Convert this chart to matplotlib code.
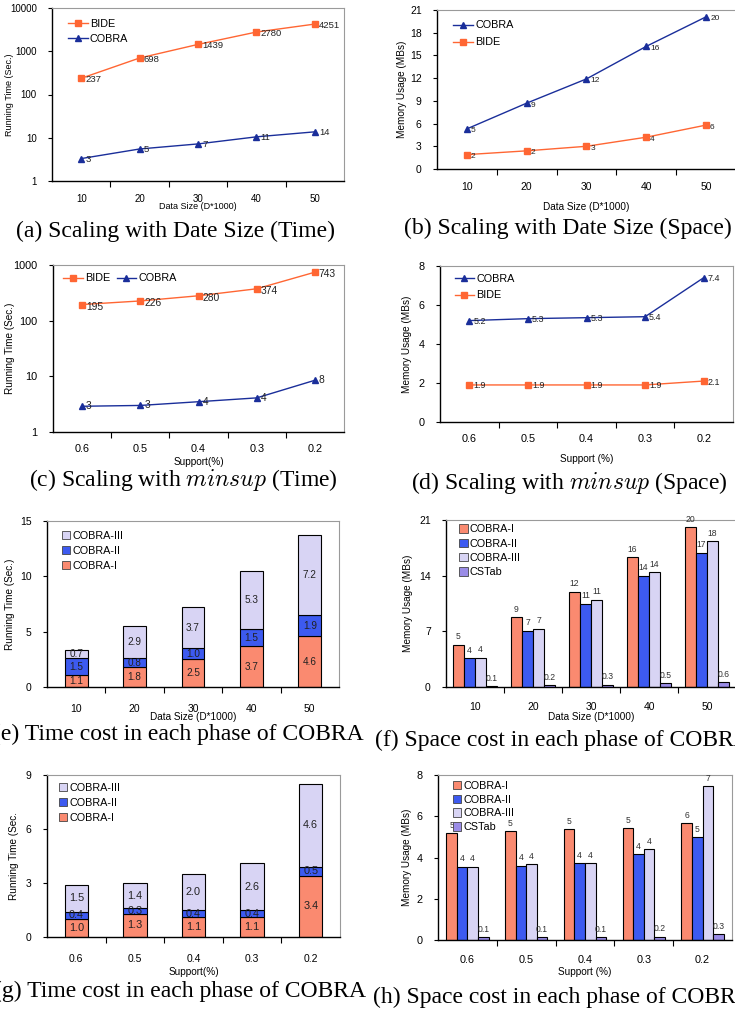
import matplotlib
matplotlib.use("Agg")
import matplotlib.pyplot as plt
from matplotlib.patches import Patch
import numpy as np

plt.rcParams['font.family'] = ['Liberation Sans', 'DejaVu Sans']
plt.rcParams['mathtext.fontset'] = 'cm'

# ---------------- data ----------------
data_sizes = ['10', '20', '30', '40', '50']
supports = ['0.6', '0.5', '0.4', '0.3', '0.2']

# (a) running time vs data size (log)
a_bide = [237, 698, 1439, 2780, 4251]
a_bide_lbl = ['237', '698', '1439', '2780', '4251']
a_cobra = [3.3, 5.5, 7.2, 10.5, 13.7]
a_cobra_lbl = ['3', '5', '7', '11', '14']

# (b) memory vs data size
b_cobra = [5.3, 8.7, 11.9, 16.2, 20.1]
b_cobra_lbl = ['5', '9', '12', '16', '20']
b_bide = [1.9, 2.4, 3.0, 4.2, 5.8]
b_bide_lbl = ['2', '2', '3', '4', '6']

# (c) running time vs support (log)
c_bide = [195, 226, 280, 374, 743]
c_bide_lbl = ['195', '226', '280', '374', '743']
c_cobra = [2.9, 3.0, 3.5, 4.1, 8.5]
c_cobra_lbl = ['3', '3', '4', '4', '8']

# (d) memory vs support
d_cobra = [5.2, 5.3, 5.35, 5.4, 7.4]
d_cobra_lbl = ['5.2', '5.3', '5.3', '5.4', '7.4']
d_bide = [1.9, 1.9, 1.9, 1.9, 2.1]
d_bide_lbl = ['1.9', '1.9', '1.9', '1.9', '2.1']

# (e) time per phase vs data size (stacked)
e_p1 = [1.1, 1.8, 2.5, 3.7, 4.6]
e_p2 = [1.5, 0.8, 1.0, 1.5, 1.9]
e_p3 = [0.7, 2.9, 3.7, 5.3, 7.2]

# (f) space per phase vs data size (grouped)
f_p1 = [5.3, 8.8, 12.0, 16.3, 20.1]
f_p1_lbl = ['5', '9', '12', '16', '20']
f_p2 = [3.6, 7.1, 10.5, 14.0, 16.9]
f_p2_lbl = ['4', '7', '11', '14', '17']
f_p3 = [3.7, 7.3, 11.0, 14.4, 18.3]
f_p3_lbl = ['4', '7', '11', '14', '18']
f_cst = [0.1, 0.2, 0.3, 0.5, 0.6]
f_cst_lbl = ['0.1', '0.2', '0.3', '0.5', '0.6']

# (g) time per phase vs support (stacked)
g_p1 = [1.0, 1.3, 1.1, 1.1, 3.4]
g_p2 = [0.4, 0.3, 0.4, 0.4, 0.5]
g_p3 = [1.5, 1.4, 2.0, 2.6, 4.6]

# (h) space per phase vs support (grouped)
h_p1 = [5.17, 5.28, 5.36, 5.41, 5.65]
h_p1_lbl = ['5', '5', '5', '5', '6']
h_p2 = [3.55, 3.6, 3.72, 4.15, 4.98]
h_p2_lbl = ['4', '4', '4', '4', '5']
h_p3 = [3.55, 3.67, 3.72, 4.41, 7.46]
h_p3_lbl = ['4', '4', '4', '4', '7']
h_cst = [0.13, 0.13, 0.13, 0.16, 0.29]
h_cst_lbl = ['0.1', '0.1', '0.1', '0.2', '0.3']

captions = [
    '(a) Scaling with Date Size (Time)',
    '(b) Scaling with Date Size (Space)',
    '(c) Scaling with $minsup$ (Time)',
    '(d) Scaling with $minsup$ (Space)',
    '(e) Time cost in each phase of COBRA',
    '(f) Space cost in each phase of COBRA',
    '(g) Time cost in each phase of COBRA',
    '(h) Space cost in each phase of COBRA',
]

# ---------------- style ----------------
C_BIDE = '#FF6633'
C_COBRA = '#1A2E9A'
C_P1 = '#FA8A70'
C_P2 = '#3D5AF0'
C_P3 = '#D8D4F4'
C_CST = '#9A8CE6'
GRAY = '#9a9a9a'

W, H = 735, 1016
fig = plt.figure(figsize=(W / 100, H / 100), dpi=100)


def add_ax(l, t, r, b):
    return fig.add_axes([l / W, 1 - b / H, (r - l) / W, (b - t) / H])


def style_ax(ax, cats, xlabel, ylabel, pos, tick_fs, lab_fs, xl_off, yl_off):
    l, t, r, b = pos
    for s in ['left', 'bottom']:
        ax.spines[s].set_color('black')
        ax.spines[s].set_linewidth(1.0)
    for s in ['top', 'right']:
        ax.spines[s].set_color(GRAY)
        ax.spines[s].set_linewidth(0.8)
    n = len(cats)
    ax.set_xlim(-0.5, n - 0.5)
    ax.set_xticks(range(n))
    ax.set_xticklabels(cats, fontsize=tick_fs)
    ax.set_xticks(np.arange(0.5, n - 0.5, 1.0), minor=True)
    ax.tick_params(axis='x', which='major', length=0, pad=9)
    ax.tick_params(axis='x', which='minor', length=4, width=0.8, direction='out')
    ax.tick_params(axis='y', which='major', length=3, width=0.8, direction='out',
                   labelsize=tick_fs, pad=8)
    ax.tick_params(axis='y', which='minor', length=0)
    ax.set_xlabel(xlabel, fontsize=lab_fs)
    ax.set_ylabel(ylabel, fontsize=lab_fs)
    ax.xaxis.set_label_coords(0.5, -xl_off / (b - t))
    ax.yaxis.set_label_coords(-yl_off / (r - l), 0.5)


def line_labels(ax, vals, lbls, fs, dx=4, dy=-1):
    for i, (v, s) in enumerate(zip(vals, lbls)):
        ax.annotate(s, (i, v), xytext=(dx * 0.72, dy * 0.72), textcoords='offset points',
                    fontsize=fs, va='center', ha='left', color='#222222')


def plot_line(ax, vals, color, marker, ms, label):
    ax.plot(range(len(vals)), vals, color=color, lw=1.0, marker=marker,
            markersize=ms, markerfacecolor=color, markeredgecolor=color, label=label)


LEG = dict(frameon=False, fontsize=7.8, handlelength=1.8, handletextpad=0.2,
           borderpad=0, borderaxespad=0)

# ---------- (a) ----------
pos = (52, 8, 344, 181)
ax = add_ax(*pos)
plot_line(ax, a_bide, C_BIDE, 's', 5, 'BIDE')
plot_line(ax, a_cobra, C_COBRA, '^', 5, 'COBRA')
ax.set_yscale('log')
ax.set_ylim(1, 10000)
ax.set_yticks([1, 10, 100, 1000, 10000])
ax.set_yticklabels(['1', '10', '100', '1000', '10000'])
style_ax(ax, data_sizes, 'Data Size (D*1000)', 'Running Time (Sec.)', pos, 7, 6.5, 21, 38)
line_labels(ax, a_bide, a_bide_lbl, 6.8)
line_labels(ax, a_cobra, a_cobra_lbl, 6.8)
ax.legend(loc='upper left', bbox_to_anchor=(0.055, 0.935), labelspacing=0.45, **LEG)

# ---------- (b) ----------
pos = (437, 10, 736, 169)
ax = add_ax(*pos)
plot_line(ax, b_cobra, C_COBRA, '^', 5, 'COBRA')
plot_line(ax, b_bide, C_BIDE, 's', 5, 'BIDE')
ax.set_ylim(0, 21)
ax.set_yticks(range(0, 22, 3))
style_ax(ax, data_sizes, 'Data Size (D*1000)', 'Memory Usage (MBs)', pos, 7.5, 7.2, 33, 30)
line_labels(ax, b_cobra, b_cobra_lbl, 6, dy=-2)
line_labels(ax, b_bide, b_bide_lbl, 6, dy=-2)
ax.legend(loc='upper left', bbox_to_anchor=(0.055, 0.935), labelspacing=0.65, **LEG)

# ---------- (c) ----------
pos = (53, 265, 344, 432)
ax = add_ax(*pos)
plot_line(ax, c_bide, C_BIDE, 's', 5, 'BIDE')
plot_line(ax, c_cobra, C_COBRA, '^', 5, 'COBRA')
ax.set_yscale('log')
ax.set_ylim(1, 1000)
ax.set_yticks([1, 10, 100, 1000])
ax.set_yticklabels(['1', '10', '100', '1000'])
style_ax(ax, supports, 'Support(%)', 'Running Time (Sec.)', pos, 7.8, 7.2, 25, 38)
line_labels(ax, c_bide, c_bide_lbl, 7.4, dy=-2)
line_labels(ax, c_cobra, c_cobra_lbl, 7.4, dy=0)
ax.legend(loc='upper left', bbox_to_anchor=(0.035, 0.95), ncol=2, columnspacing=0.6, **LEG)

# ---------- (d) ----------
pos = (440, 266, 733, 422)
ax = add_ax(*pos)
plot_line(ax, d_cobra, C_COBRA, '^', 5, 'COBRA')
plot_line(ax, d_bide, C_BIDE, 's', 5, 'BIDE')
ax.set_ylim(0, 8)
ax.set_yticks([0, 2, 4, 6, 8])
style_ax(ax, supports, 'Support (%)', 'Memory Usage (MBs)', pos, 7.8, 7.2, 32, 28)
line_labels(ax, d_cobra, d_cobra_lbl, 6.4)
line_labels(ax, d_bide, d_bide_lbl, 6.4)
ax.legend(loc='upper left', bbox_to_anchor=(0.05, 0.95), labelspacing=0.6, **LEG)


# ---------- bar helpers ----------
def stacked(ax, p1, p2, p3, width, fs):
    x = np.arange(len(p1))
    bot2 = np.array(p1)
    bot3 = bot2 + np.array(p2)
    ax.bar(x, p1, width, color=C_P1, edgecolor='black', linewidth=0.8)
    ax.bar(x, p2, width, bottom=bot2, color=C_P2, edgecolor='black', linewidth=0.8)
    ax.bar(x, p3, width, bottom=bot3, color=C_P3, edgecolor='black', linewidth=0.8)
    for i in range(len(p1)):
        ax.text(x[i], p1[i] / 2, f'{p1[i]:.1f}', ha='center', va='center', fontsize=fs, color='#222222')
        ax.text(x[i], bot2[i] + p2[i] / 2, f'{p2[i]:.1f}', ha='center', va='center', fontsize=fs, color='#222222')
        ax.text(x[i], bot3[i] + p3[i] / 2, f'{p3[i]:.1f}', ha='center', va='center', fontsize=fs, color='#222222')
    return [Patch(facecolor=C_P3, edgecolor='#444444', lw=0.6),
            Patch(facecolor=C_P2, edgecolor='#444444', lw=0.6),
            Patch(facecolor=C_P1, edgecolor='#444444', lw=0.6)]


def grouped(ax, series, lbls, colors, width, fs):
    n = len(series)
    x = np.arange(len(series[0]))
    for k, (vals, lab, col) in enumerate(zip(series, lbls, colors)):
        off = (k - (n - 1) / 2) * width
        ax.bar(x + off, vals, width, color=col, edgecolor='black', linewidth=0.8)
        for i, v in enumerate(vals):
            ax.annotate(lab[i], (x[i] + off, v), xytext=(0, 2.5), textcoords='offset points',
                        ha='center', va='bottom', fontsize=fs, color='#333333')
    return [Patch(facecolor=c, edgecolor='#444444', lw=0.6) for c in colors]


bar_names = ['COBRA-I', 'COBRA-II', 'COBRA-III', 'CSTab']
bar_colors = [C_P1, C_P2, C_P3, C_CST]
BLEG = dict(frameon=False, fontsize=7.8, handlelength=0.8, handleheight=0.8,
            handletextpad=0.2, borderpad=0, borderaxespad=0)

# ---------- (e) ----------
pos = (47, 521, 339, 687)
ax = add_ax(*pos)
h = stacked(ax, e_p1, e_p2, e_p3, 0.39, 7.2)
ax.set_ylim(0, 15)
ax.set_yticks([0, 5, 10, 15])
style_ax(ax, data_sizes, 'Data Size (D*1000)', 'Running Time (Sec.)', pos, 7.5, 7.2, 25, 32)
ax.tick_params(axis='x', which='major', pad=12)
ax.legend(h, ['COBRA-III', 'COBRA-II', 'COBRA-I'], loc='upper left', bbox_to_anchor=(0.05, 0.94),
          labelspacing=0.45, **BLEG)

# ---------- (f) ----------
pos = (446, 520, 736, 687)
ax = add_ax(*pos)
h = grouped(ax, [f_p1, f_p2, f_p3, f_cst], [f_p1_lbl, f_p2_lbl, f_p3_lbl, f_cst_lbl],
            bar_colors, 0.19, 6.2)
ax.set_ylim(0, 21)
ax.set_yticks([0, 7, 14, 21])
style_ax(ax, data_sizes, 'Data Size (D*1000)', 'Memory Usage (MBs)', pos, 7.5, 7.2, 25, 33)
ax.tick_params(axis='x', which='major', pad=11)
ax.legend(h, bar_names, loc='upper left', bbox_to_anchor=(0.045, 0.975), labelspacing=0.4, **BLEG)

# ---------- (g) ----------
pos = (47, 775, 340, 937)
ax = add_ax(*pos)
h = stacked(ax, g_p1, g_p2, g_p3, 0.4, 7.8)
ax.set_ylim(0, 9)
ax.set_yticks([0, 3, 6, 9])
style_ax(ax, supports, 'Support(%)', 'Running Time (Sec.', pos, 7.5, 7.2, 30, 28)
ax.tick_params(axis='x', which='major', pad=12)
ax.legend(h, ['COBRA-III', 'COBRA-II', 'COBRA-I'], loc='upper left', bbox_to_anchor=(0.04, 0.95),
          labelspacing=0.45, **BLEG)

# ---------- (h) ----------
pos = (438, 775, 732, 940)
ax = add_ax(*pos)
h = grouped(ax, [h_p1, h_p2, h_p3, h_cst], [h_p1_lbl, h_p2_lbl, h_p3_lbl, h_cst_lbl],
            bar_colors, 0.18, 6.2)
ax.set_ylim(0, 8)
ax.set_yticks([0, 2, 4, 6, 8])
style_ax(ax, supports, 'Support (%)', 'Memory Usage (MBs)', pos, 7.8, 7.2, 27, 26)
ax.tick_params(axis='x', which='major', pad=11)
ax.legend(h, bar_names, loc='upper left', bbox_to_anchor=(0.05, 0.965), labelspacing=0.35, **BLEG)

# ---------- captions ----------
cap_pos = [(175, 231), (568, 228), (183, 480), (569, 483),
           (178, 734), (563, 740), (180, 991), (563, 997)]
for txt, (cx, cy) in zip(captions, cap_pos):
    fig.text(cx / W, 1 - cy / H, txt, ha='center', va='center', fontsize=17,
             family=['Liberation Serif', 'DejaVu Serif'])

fig.savefig('out.png', dpi=100)
